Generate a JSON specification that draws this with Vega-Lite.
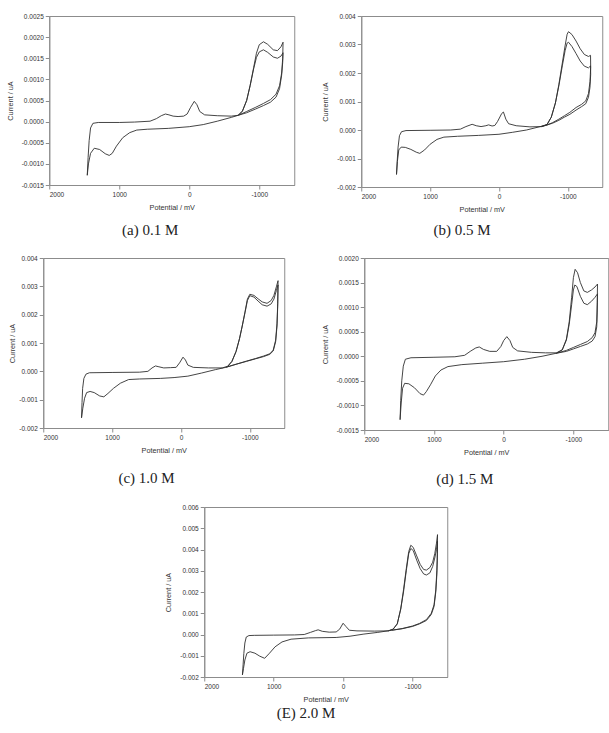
{
  "$schema": "https://vega.github.io/schema/vega-lite/v6.json",
  "padding": {"left": 5, "top": 12, "right": 1, "bottom": 2},
  "background": "white",
  "config": {
    "view": {"stroke": "#8c8c8c", "strokeWidth": 1},
    "axis": {"labelFont": "Liberation Sans", "labelFontSize": 6.5, "labelColor": "#333333", "titleFont": "Liberation Sans", "titleFontSize": 7.3, "titleFontWeight": "normal", "titleColor": "#333333", "domainColor": "#8c8c8c", "tickColor": "#8c8c8c", "tickSize": 4, "grid": false, "labelPadding": 2},
    "axisX": {"titlePadding": 6},
    "axisY": {"titlePadding": 7},
    "title": {"font": "Liberation Serif", "fontSize": 15, "fontWeight": "normal", "color": "#222222", "orient": "bottom", "frame": "bounds", "anchor": "middle"},
    "line": {"color": "#303030", "strokeWidth": 0.9}
  },
  "datasets": {
    "a": [
      {"c":1,"x":1457,"y":-0.00127},{"c":1,"x":1445,"y":-0.00085},{"c":1,"x":1430,"y":-0.00045},{"c":1,"x":1410,"y":-0.00015},{"c":1,"x":1376,"y":-0.00004},{"c":1,"x":1300,"y":-0.00002},{"c":1,"x":1000,"y":-0.00002},{"c":1,"x":780,"y":-0.00001},{"c":1,"x":560,"y":0.00001},{"c":1,"x":470,"y":0.00007},{"c":1,"x":400,"y":0.00014},{"c":1,"x":340,"y":0.00018},{"c":1,"x":290,"y":0.00016},{"c":1,"x":230,"y":0.00013},{"c":1,"x":160,"y":0.00012},{"c":1,"x":80,"y":0.00013},{"c":1,"x":30,"y":0.00018},{"c":1,"x":-20,"y":0.00034},{"c":1,"x":-72,"y":0.00048},{"c":1,"x":-110,"y":0.0004},{"c":1,"x":-150,"y":0.00024},{"c":1,"x":-220,"y":0.00016},{"c":1,"x":-400,"y":0.00014},{"c":1,"x":-600,"y":0.00013},{"c":1,"x":-700,"y":0.00015},{"c":1,"x":-760,"y":0.00025},{"c":1,"x":-820,"y":0.0005},{"c":1,"x":-870,"y":0.00086},{"c":1,"x":-920,"y":0.00128},{"c":1,"x":-960,"y":0.00162},{"c":1,"x":-1000,"y":0.00182},{"c":1,"x":-1060,"y":0.00189},{"c":1,"x":-1120,"y":0.00183},{"c":1,"x":-1200,"y":0.0017},{"c":1,"x":-1260,"y":0.00168},{"c":1,"x":-1310,"y":0.00177},{"c":1,"x":-1340,"y":0.00188},{"c":1,"x":-1335,"y":0.0015},{"c":1,"x":-1320,"y":0.00115},{"c":1,"x":-1290,"y":0.00085},{"c":1,"x":-1240,"y":0.00065},{"c":1,"x":-1160,"y":0.00052},{"c":1,"x":-1060,"y":0.00043},{"c":1,"x":-950,"y":0.00034},{"c":1,"x":-820,"y":0.00024},{"c":1,"x":-700,"y":0.00015},{"c":1,"x":-600,"y":0.0001},{"c":1,"x":-400,"y":0.00001},{"c":1,"x":-200,"y":-0.00007},{"c":1,"x":0,"y":-0.00012},{"c":1,"x":300,"y":-0.00016},{"c":1,"x":600,"y":-0.00018},{"c":1,"x":750,"y":-0.0002},{"c":1,"x":850,"y":-0.00026},{"c":1,"x":950,"y":-0.00038},{"c":1,"x":1040,"y":-0.00058},{"c":1,"x":1100,"y":-0.00075},{"c":1,"x":1143,"y":-0.0008},{"c":1,"x":1200,"y":-0.00076},{"c":1,"x":1280,"y":-0.00066},{"c":1,"x":1357,"y":-0.00063},{"c":1,"x":1410,"y":-0.00075},{"c":1,"x":1440,"y":-0.001},{"c":1,"x":1457,"y":-0.00127},
      {"c":2,"x":-700,"y":0.00015},{"c":2,"x":-760,"y":0.00025},{"c":2,"x":-820,"y":0.0005},{"c":2,"x":-870,"y":0.00085},{"c":2,"x":-920,"y":0.00125},{"c":2,"x":-960,"y":0.00152},{"c":2,"x":-1000,"y":0.00165},{"c":2,"x":-1060,"y":0.0017},{"c":2,"x":-1120,"y":0.00164},{"c":2,"x":-1200,"y":0.00153},{"c":2,"x":-1260,"y":0.0015},{"c":2,"x":-1310,"y":0.00155},{"c":2,"x":-1340,"y":0.00163},{"c":2,"x":-1335,"y":0.0014},{"c":2,"x":-1320,"y":0.0011},{"c":2,"x":-1290,"y":0.00078},{"c":2,"x":-1240,"y":0.00058},{"c":2,"x":-1160,"y":0.00046},{"c":2,"x":-1060,"y":0.00038},{"c":2,"x":-950,"y":0.0003},{"c":2,"x":-820,"y":0.00021},{"c":2,"x":-700,"y":0.00015}
    ],
    "b": [
      {"c":1,"x":1488,"y":-0.00156},{"c":1,"x":1478,"y":-0.0011},{"c":1,"x":1465,"y":-0.0006},{"c":1,"x":1445,"y":-0.0002},{"c":1,"x":1415,"y":-0.00006},{"c":1,"x":1350,"y":-0.00002},{"c":1,"x":1000,"y":-0.00001},{"c":1,"x":700,"y":0.0},{"c":1,"x":560,"y":0.00003},{"c":1,"x":480,"y":0.00012},{"c":1,"x":390,"y":0.0002},{"c":1,"x":330,"y":0.00015},{"c":1,"x":260,"y":0.00012},{"c":1,"x":190,"y":0.00015},{"c":1,"x":150,"y":0.00018},{"c":1,"x":100,"y":0.00014},{"c":1,"x":60,"y":0.00016},{"c":1,"x":20,"y":0.0003},{"c":1,"x":-40,"y":0.00058},{"c":1,"x":-65,"y":0.00063},{"c":1,"x":-100,"y":0.00038},{"c":1,"x":-140,"y":0.00022},{"c":1,"x":-250,"y":0.00015},{"c":1,"x":-450,"y":0.00011},{"c":1,"x":-620,"y":0.00012},{"c":1,"x":-700,"y":0.0002},{"c":1,"x":-760,"y":0.00045},{"c":1,"x":-820,"y":0.00095},{"c":1,"x":-870,"y":0.0016},{"c":1,"x":-920,"y":0.00235},{"c":1,"x":-960,"y":0.00295},{"c":1,"x":-990,"y":0.00336},{"c":1,"x":-1010,"y":0.00345},{"c":1,"x":-1060,"y":0.00335},{"c":1,"x":-1120,"y":0.00312},{"c":1,"x":-1180,"y":0.00285},{"c":1,"x":-1240,"y":0.00265},{"c":1,"x":-1300,"y":0.00258},{"c":1,"x":-1330,"y":0.00262},{"c":1,"x":-1332,"y":0.0022},{"c":1,"x":-1322,"y":0.0017},{"c":1,"x":-1300,"y":0.00128},{"c":1,"x":-1260,"y":0.00102},{"c":1,"x":-1200,"y":0.0009},{"c":1,"x":-1120,"y":0.00079},{"c":1,"x":-1030,"y":0.00062},{"c":1,"x":-950,"y":0.0005},{"c":1,"x":-870,"y":0.00038},{"c":1,"x":-780,"y":0.00026},{"c":1,"x":-680,"y":0.00016},{"c":1,"x":-600,"y":0.00012},{"c":1,"x":-400,"y":0.0},{"c":1,"x":-200,"y":-0.00008},{"c":1,"x":0,"y":-0.00015},{"c":1,"x":300,"y":-0.00019},{"c":1,"x":600,"y":-0.00022},{"c":1,"x":800,"y":-0.00025},{"c":1,"x":900,"y":-0.00033},{"c":1,"x":1000,"y":-0.0005},{"c":1,"x":1080,"y":-0.0007},{"c":1,"x":1150,"y":-0.00082},{"c":1,"x":1200,"y":-0.00078},{"c":1,"x":1280,"y":-0.00068},{"c":1,"x":1360,"y":-0.00061},{"c":1,"x":1420,"y":-0.0006},{"c":1,"x":1455,"y":-0.0007},{"c":1,"x":1475,"y":-0.0011},{"c":1,"x":1488,"y":-0.00156},
      {"c":2,"x":-620,"y":0.00012},{"c":2,"x":-700,"y":0.0002},{"c":2,"x":-760,"y":0.00045},{"c":2,"x":-820,"y":0.00095},{"c":2,"x":-870,"y":0.00155},{"c":2,"x":-920,"y":0.00225},{"c":2,"x":-960,"y":0.00278},{"c":2,"x":-990,"y":0.00305},{"c":2,"x":-1010,"y":0.00308},{"c":2,"x":-1060,"y":0.00293},{"c":2,"x":-1120,"y":0.00268},{"c":2,"x":-1180,"y":0.00242},{"c":2,"x":-1240,"y":0.00224},{"c":2,"x":-1300,"y":0.00218},{"c":2,"x":-1330,"y":0.00225},{"c":2,"x":-1332,"y":0.00195},{"c":2,"x":-1322,"y":0.0015},{"c":2,"x":-1300,"y":0.00115},{"c":2,"x":-1260,"y":0.00092},{"c":2,"x":-1200,"y":0.00082},{"c":2,"x":-1120,"y":0.0007},{"c":2,"x":-1030,"y":0.00055},{"c":2,"x":-950,"y":0.00045},{"c":2,"x":-870,"y":0.00034},{"c":2,"x":-780,"y":0.00024},{"c":2,"x":-680,"y":0.00016},{"c":2,"x":-600,"y":0.00012}
    ],
    "c": [
      {"c":1,"x":1444,"y":-0.00164},{"c":1,"x":1437,"y":-0.0011},{"c":1,"x":1428,"y":-0.0006},{"c":1,"x":1410,"y":-0.00025},{"c":1,"x":1380,"y":-0.0001},{"c":1,"x":1330,"y":-0.00005},{"c":1,"x":1000,"y":-0.00004},{"c":1,"x":600,"y":-0.00003},{"c":1,"x":480,"y":0.0},{"c":1,"x":420,"y":0.00012},{"c":1,"x":370,"y":0.00019},{"c":1,"x":320,"y":0.00016},{"c":1,"x":250,"y":0.00012},{"c":1,"x":150,"y":0.00013},{"c":1,"x":70,"y":0.00014},{"c":1,"x":20,"y":0.0003},{"c":1,"x":-30,"y":0.0005},{"c":1,"x":-65,"y":0.0004},{"c":1,"x":-100,"y":0.00022},{"c":1,"x":-180,"y":0.00014},{"c":1,"x":-400,"y":0.00012},{"c":1,"x":-600,"y":0.00012},{"c":1,"x":-680,"y":0.00018},{"c":1,"x":-740,"y":0.00035},{"c":1,"x":-800,"y":0.0007},{"c":1,"x":-850,"y":0.00115},{"c":1,"x":-890,"y":0.0016},{"c":1,"x":-930,"y":0.0021},{"c":1,"x":-965,"y":0.00255},{"c":1,"x":-1000,"y":0.00272},{"c":1,"x":-1060,"y":0.00268},{"c":1,"x":-1120,"y":0.00256},{"c":1,"x":-1180,"y":0.00245},{"c":1,"x":-1250,"y":0.0024},{"c":1,"x":-1310,"y":0.0025},{"c":1,"x":-1350,"y":0.00268},{"c":1,"x":-1385,"y":0.00298},{"c":1,"x":-1410,"y":0.0032},{"c":1,"x":-1405,"y":0.0024},{"c":1,"x":-1395,"y":0.0017},{"c":1,"x":-1375,"y":0.0011},{"c":1,"x":-1340,"y":0.00075},{"c":1,"x":-1290,"y":0.00062},{"c":1,"x":-1200,"y":0.00054},{"c":1,"x":-1080,"y":0.00045},{"c":1,"x":-950,"y":0.00036},{"c":1,"x":-800,"y":0.00025},{"c":1,"x":-650,"y":0.00014},{"c":1,"x":-500,"y":0.00006},{"c":1,"x":-300,"y":-0.00006},{"c":1,"x":-100,"y":-0.00017},{"c":1,"x":100,"y":-0.00022},{"c":1,"x":300,"y":-0.00025},{"c":1,"x":600,"y":-0.00027},{"c":1,"x":760,"y":-0.00029},{"c":1,"x":880,"y":-0.00042},{"c":1,"x":980,"y":-0.0006},{"c":1,"x":1060,"y":-0.00078},{"c":1,"x":1120,"y":-0.0009},{"c":1,"x":1180,"y":-0.00087},{"c":1,"x":1260,"y":-0.00075},{"c":1,"x":1320,"y":-0.00071},{"c":1,"x":1370,"y":-0.00075},{"c":1,"x":1400,"y":-0.00095},{"c":1,"x":1425,"y":-0.0013},{"c":1,"x":1444,"y":-0.00164},
      {"c":2,"x":-680,"y":0.00018},{"c":2,"x":-740,"y":0.00035},{"c":2,"x":-800,"y":0.0007},{"c":2,"x":-850,"y":0.00115},{"c":2,"x":-890,"y":0.0016},{"c":2,"x":-930,"y":0.00207},{"c":2,"x":-965,"y":0.0025},{"c":2,"x":-1000,"y":0.00267},{"c":2,"x":-1060,"y":0.00262},{"c":2,"x":-1120,"y":0.00248},{"c":2,"x":-1180,"y":0.00235},{"c":2,"x":-1250,"y":0.0023},{"c":2,"x":-1310,"y":0.00238},{"c":2,"x":-1350,"y":0.00255},{"c":2,"x":-1385,"y":0.00285},{"c":2,"x":-1410,"y":0.00305},{"c":2,"x":-1405,"y":0.0023},{"c":2,"x":-1395,"y":0.0016},{"c":2,"x":-1375,"y":0.00105},{"c":2,"x":-1340,"y":0.00072},{"c":2,"x":-1290,"y":0.0006},{"c":2,"x":-1200,"y":0.00052},{"c":2,"x":-1080,"y":0.00044},{"c":2,"x":-950,"y":0.00035},{"c":2,"x":-800,"y":0.00025},{"c":2,"x":-650,"y":0.00014}
    ],
    "d": [
      {"c":1,"x":1486,"y":-0.00129},{"c":1,"x":1477,"y":-0.0009},{"c":1,"x":1462,"y":-0.0005},{"c":1,"x":1440,"y":-0.0002},{"c":1,"x":1410,"y":-0.00006},{"c":1,"x":1330,"y":-0.00003},{"c":1,"x":1000,"y":-0.00002},{"c":1,"x":700,"y":-0.00001},{"c":1,"x":560,"y":0.00002},{"c":1,"x":480,"y":0.0001},{"c":1,"x":400,"y":0.00017},{"c":1,"x":350,"y":0.00019},{"c":1,"x":290,"y":0.00014},{"c":1,"x":200,"y":0.0001},{"c":1,"x":100,"y":0.0001},{"c":1,"x":40,"y":0.0002},{"c":1,"x":0,"y":0.00032},{"c":1,"x":-45,"y":0.0004},{"c":1,"x":-90,"y":0.00032},{"c":1,"x":-130,"y":0.00018},{"c":1,"x":-200,"y":0.00011},{"c":1,"x":-400,"y":0.00008},{"c":1,"x":-600,"y":0.00007},{"c":1,"x":-760,"y":0.00007},{"c":1,"x":-840,"y":0.00013},{"c":1,"x":-900,"y":0.00035},{"c":1,"x":-940,"y":0.0007},{"c":1,"x":-975,"y":0.0012},{"c":1,"x":-1000,"y":0.0016},{"c":1,"x":-1025,"y":0.00177},{"c":1,"x":-1060,"y":0.0017},{"c":1,"x":-1100,"y":0.0015},{"c":1,"x":-1150,"y":0.00133},{"c":1,"x":-1200,"y":0.0013},{"c":1,"x":-1260,"y":0.00135},{"c":1,"x":-1310,"y":0.00141},{"c":1,"x":-1346,"y":0.00147},{"c":1,"x":-1342,"y":0.0011},{"c":1,"x":-1335,"y":0.0007},{"c":1,"x":-1310,"y":0.00048},{"c":1,"x":-1270,"y":0.00038},{"c":1,"x":-1200,"y":0.0003},{"c":1,"x":-1100,"y":0.00024},{"c":1,"x":-1000,"y":0.00018},{"c":1,"x":-900,"y":0.00012},{"c":1,"x":-750,"y":0.00006},{"c":1,"x":-550,"y":0.0},{"c":1,"x":-300,"y":-0.00006},{"c":1,"x":0,"y":-0.00011},{"c":1,"x":300,"y":-0.00014},{"c":1,"x":600,"y":-0.00017},{"c":1,"x":800,"y":-0.00021},{"c":1,"x":900,"y":-0.00028},{"c":1,"x":980,"y":-0.0004},{"c":1,"x":1050,"y":-0.00058},{"c":1,"x":1110,"y":-0.00072},{"c":1,"x":1150,"y":-0.00079},{"c":1,"x":1200,"y":-0.00076},{"c":1,"x":1280,"y":-0.00064},{"c":1,"x":1360,"y":-0.00056},{"c":1,"x":1420,"y":-0.00055},{"c":1,"x":1450,"y":-0.00065},{"c":1,"x":1470,"y":-0.00095},{"c":1,"x":1486,"y":-0.00129},
      {"c":2,"x":-760,"y":0.00007},{"c":2,"x":-840,"y":0.00013},{"c":2,"x":-900,"y":0.00033},{"c":2,"x":-940,"y":0.00065},{"c":2,"x":-975,"y":0.00105},{"c":2,"x":-1000,"y":0.00135},{"c":2,"x":-1020,"y":0.00145},{"c":2,"x":-1050,"y":0.00142},{"c":2,"x":-1100,"y":0.00122},{"c":2,"x":-1150,"y":0.00108},{"c":2,"x":-1200,"y":0.00105},{"c":2,"x":-1260,"y":0.00112},{"c":2,"x":-1310,"y":0.0012},{"c":2,"x":-1346,"y":0.00127},{"c":2,"x":-1342,"y":0.0009},{"c":2,"x":-1335,"y":0.0006},{"c":2,"x":-1310,"y":0.0004},{"c":2,"x":-1270,"y":0.00031},{"c":2,"x":-1200,"y":0.00025},{"c":2,"x":-1100,"y":0.0002},{"c":2,"x":-1000,"y":0.00015},{"c":2,"x":-900,"y":0.0001},{"c":2,"x":-750,"y":0.00006}
    ],
    "e": [
      {"c":1,"x":1450,"y":-0.0019},{"c":1,"x":1440,"y":-0.0014},{"c":1,"x":1430,"y":-0.0009},{"c":1,"x":1415,"y":-0.0004},{"c":1,"x":1395,"y":-0.00012},{"c":1,"x":1357,"y":-0.00005},{"c":1,"x":1280,"y":-0.00004},{"c":1,"x":1000,"y":-0.00003},{"c":1,"x":700,"y":-0.00002},{"c":1,"x":560,"y":0.0},{"c":1,"x":470,"y":0.0001},{"c":1,"x":400,"y":0.00018},{"c":1,"x":360,"y":0.00022},{"c":1,"x":300,"y":0.00015},{"c":1,"x":200,"y":0.00011},{"c":1,"x":100,"y":0.00012},{"c":1,"x":50,"y":0.00025},{"c":1,"x":0,"y":0.00053},{"c":1,"x":-40,"y":0.00038},{"c":1,"x":-90,"y":0.0002},{"c":1,"x":-200,"y":0.00017},{"c":1,"x":-450,"y":0.00016},{"c":1,"x":-650,"y":0.00017},{"c":1,"x":-720,"y":0.00025},{"c":1,"x":-780,"y":0.0005},{"c":1,"x":-830,"y":0.0012},{"c":1,"x":-870,"y":0.0021},{"c":1,"x":-910,"y":0.0031},{"c":1,"x":-945,"y":0.0039},{"c":1,"x":-975,"y":0.0042},{"c":1,"x":-1010,"y":0.0041},{"c":1,"x":-1060,"y":0.0037},{"c":1,"x":-1110,"y":0.0033},{"c":1,"x":-1160,"y":0.00306},{"c":1,"x":-1200,"y":0.00303},{"c":1,"x":-1250,"y":0.00315},{"c":1,"x":-1290,"y":0.0034},{"c":1,"x":-1320,"y":0.0038},{"c":1,"x":-1345,"y":0.0043},{"c":1,"x":-1360,"y":0.0047},{"c":1,"x":-1357,"y":0.0038},{"c":1,"x":-1350,"y":0.003},{"c":1,"x":-1335,"y":0.0021},{"c":1,"x":-1310,"y":0.0014},{"c":1,"x":-1270,"y":0.001},{"c":1,"x":-1200,"y":0.0007},{"c":1,"x":-1100,"y":0.00052},{"c":1,"x":-1000,"y":0.0004},{"c":1,"x":-850,"y":0.00028},{"c":1,"x":-700,"y":0.0002},{"c":1,"x":-500,"y":0.0001},{"c":1,"x":-300,"y":0.00002},{"c":1,"x":-100,"y":-0.00008},{"c":1,"x":100,"y":-0.00014},{"c":1,"x":500,"y":-0.00016},{"c":1,"x":750,"y":-0.00022},{"c":1,"x":880,"y":-0.00035},{"c":1,"x":980,"y":-0.00058},{"c":1,"x":1060,"y":-0.00088},{"c":1,"x":1130,"y":-0.00112},{"c":1,"x":1200,"y":-0.00102},{"c":1,"x":1270,"y":-0.00088},{"c":1,"x":1340,"y":-0.00081},{"c":1,"x":1385,"y":-0.00088},{"c":1,"x":1415,"y":-0.0012},{"c":1,"x":1435,"y":-0.0016},{"c":1,"x":1450,"y":-0.0019},
      {"c":2,"x":-650,"y":0.00017},{"c":2,"x":-720,"y":0.00025},{"c":2,"x":-780,"y":0.0005},{"c":2,"x":-830,"y":0.0012},{"c":2,"x":-870,"y":0.002},{"c":2,"x":-910,"y":0.003},{"c":2,"x":-945,"y":0.0038},{"c":2,"x":-975,"y":0.00405},{"c":2,"x":-1010,"y":0.00395},{"c":2,"x":-1060,"y":0.0035},{"c":2,"x":-1110,"y":0.0031},{"c":2,"x":-1160,"y":0.00285},{"c":2,"x":-1200,"y":0.0028},{"c":2,"x":-1250,"y":0.0029},{"c":2,"x":-1290,"y":0.0032},{"c":2,"x":-1320,"y":0.0036},{"c":2,"x":-1345,"y":0.004},{"c":2,"x":-1360,"y":0.0044},{"c":2,"x":-1357,"y":0.0035},{"c":2,"x":-1350,"y":0.0028},{"c":2,"x":-1335,"y":0.002},{"c":2,"x":-1310,"y":0.00132},{"c":2,"x":-1270,"y":0.00094},{"c":2,"x":-1200,"y":0.00066},{"c":2,"x":-1100,"y":0.0005},{"c":2,"x":-1000,"y":0.00038},{"c":2,"x":-850,"y":0.00027},{"c":2,"x":-700,"y":0.0002}
    ]
  },
  "vconcat": [
    {
      "spacing": 26,
      "hconcat": [
        {
          "width": 245, "height": 169,
          "data": {"name": "a"},
          "title": {"text": "(a) 0.1 M", "offset": 12},
          "mark": {"type": "line"},
          "encoding": {
            "x": {"field": "x", "type": "quantitative", "scale": {"domain": [-1500, 2000], "reverse": true, "nice": false, "zero": false}, "axis": {"values": [2000, 1000, 0, -1000], "title": "Potential / mV", "labelExpr": "datum.value < 0 ? '-' + format(-datum.value, 'd') : format(datum.value, 'd')"}},
            "y": {"field": "y", "type": "quantitative", "scale": {"domain": [-0.0015, 0.0025], "nice": false, "zero": false}, "axis": {"values": [-0.0015, -0.001, -0.0005, 0, 0.0005, 0.001, 0.0015, 0.002, 0.0025], "title": "Current / uA", "labelExpr": "datum.value < 0 ? '-' + format(-datum.value, '.4f') : format(datum.value, '.4f')"}},
            "detail": {"field": "c"},
            "order": {"value": null}
          }
        },
        {
          "width": 241, "height": 171,
          "data": {"name": "b"},
          "title": {"text": "(b) 0.5 M", "offset": 10},
          "mark": {"type": "line"},
          "encoding": {
            "x": {"field": "x", "type": "quantitative", "scale": {"domain": [-1500, 2000], "reverse": true, "nice": false, "zero": false}, "axis": {"values": [2000, 1000, 0, -1000], "title": "Potential / mV", "labelExpr": "datum.value < 0 ? '-' + format(-datum.value, 'd') : format(datum.value, 'd')"}},
            "y": {"field": "y", "type": "quantitative", "scale": {"domain": [-0.002, 0.004], "nice": false, "zero": false}, "axis": {"values": [-0.002, -0.001, 0, 0.001, 0.002, 0.003, 0.004], "title": "Current / uA", "labelExpr": "datum.value < 0 ? '-' + format(-datum.value, '.3f') : format(datum.value, '.3f')"}},
            "detail": {"field": "c"},
            "order": {"value": null}
          }
        }
      ]
    },
    {
      "spacing": 35,
      "hconcat": [
        {
          "width": 241, "height": 170,
          "data": {"name": "c"},
          "title": {"text": "(c) 1.0 M", "offset": 17},
          "mark": {"type": "line"},
          "encoding": {
            "x": {"field": "x", "type": "quantitative", "scale": {"domain": [-1500, 2000], "reverse": true, "nice": false, "zero": false}, "axis": {"values": [2000, 1000, 0, -1000], "title": "Potential / mV", "labelExpr": "datum.value < 0 ? '-' + format(-datum.value, 'd') : format(datum.value, 'd')"}},
            "y": {"field": "y", "type": "quantitative", "scale": {"domain": [-0.002, 0.004], "nice": false, "zero": false}, "axis": {"values": [-0.002, -0.001, 0, 0.001, 0.002, 0.003, 0.004], "title": "Current / uA", "titlePadding": 2, "labelExpr": "datum.value < 0 ? '-' + format(-datum.value, '.3f') : format(datum.value, '.3f')"}},
            "detail": {"field": "c"},
            "order": {"value": null}
          }
        },
        {
          "width": 244, "height": 172,
          "data": {"name": "d"},
          "title": {"text": "(d) 1.5 M", "offset": 16},
          "mark": {"type": "line"},
          "encoding": {
            "x": {"field": "x", "type": "quantitative", "scale": {"domain": [-1500, 2000], "reverse": true, "nice": false, "zero": false}, "axis": {"values": [2000, 1000, 0, -1000], "title": "Potential / mV", "labelExpr": "datum.value < 0 ? '-' + format(-datum.value, 'd') : format(datum.value, 'd')"}},
            "y": {"field": "y", "type": "quantitative", "scale": {"domain": [-0.0015, 0.002], "nice": false, "zero": false}, "axis": {"values": [-0.0015, -0.001, -0.0005, 0, 0.0005, 0.001, 0.0015, 0.002], "title": "Current / uA", "labelExpr": "datum.value < 0 ? '-' + format(-datum.value, '.4f') : format(datum.value, '.4f')"}},
            "detail": {"field": "c"},
            "order": {"value": null}
          }
        }
      ]
    },
    {
      "width": 243, "height": 170,
      "data": {"name": "e"},
      "title": {"text": "(E) 2.0 M", "offset": 3},
      "mark": {"type": "line"},
      "encoding": {
        "x": {"field": "x", "type": "quantitative", "scale": {"domain": [-1500, 2000], "reverse": true, "nice": false, "zero": false}, "axis": {"values": [2000, 1000, 0, -1000], "title": "Potential / mV", "labelExpr": "datum.value < 0 ? '-' + format(-datum.value, 'd') : format(datum.value, 'd')"}},
        "y": {"field": "y", "type": "quantitative", "scale": {"domain": [-0.002, 0.006], "nice": false, "zero": false}, "axis": {"values": [-0.002, -0.001, 0, 0.001, 0.002, 0.003, 0.004, 0.005, 0.006], "title": "Current / uA", "labelExpr": "datum.value < 0 ? '-' + format(-datum.value, '.3f') : format(datum.value, '.3f')"}},
        "detail": {"field": "c"},
        "order": {"value": null}
      }
    }
  ],
  "spacing": 15,
  "center": true
}
